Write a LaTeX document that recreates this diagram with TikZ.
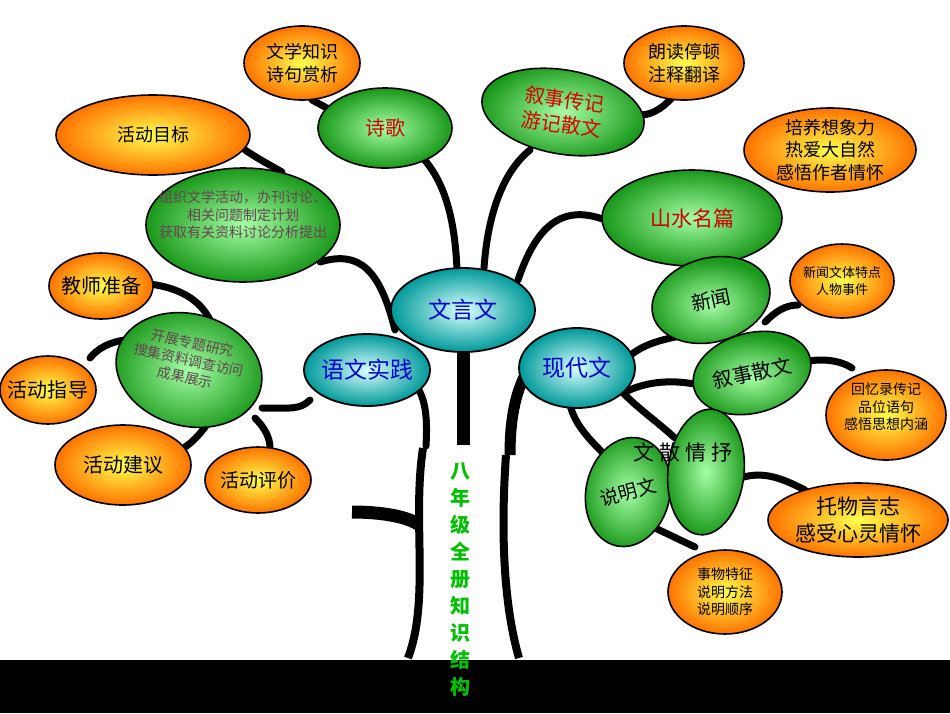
\documentclass[tikz,border=0pt]{standalone}
\usepackage{fontspec}
\setmainfont{Noto Sans CJK SC}
\begin{document}
\begin{tikzpicture}[x=1pt,y=-1pt,
  br/.style={line width=7pt,line cap=round},
  gbox/.style={draw=black,line width=1.6pt,inner color=green!35!white,outer color=green!55!black!90},
  obox/.style={draw=black,line width=1.6pt,inner color=yellow!70!white,outer color=orange!90!red},
  tbox/.style={draw=black,line width=1.8pt,inner color=cyan!15!white,outer color=teal!80!cyan},
  lbl/.style={align=center,inner sep=0pt,font=\fontsize{#1}{\dimexpr #1pt*5/4\relax}\selectfont}]
\path[fill=white] (0,0) rectangle (950,713);
\useasboundingbox (0,0) rectangle (950,713);
\fill[black] (0,660) rectangle (950,713);
% trunk
\draw[line width=8pt] (423,448) .. controls (412,520) and (430,600) .. (408,658);
\draw[line width=8pt] (506,455) .. controls (500,540) and (505,610) .. (519,658);
\draw[line width=13pt] (463,350) -- (463,445);
\draw[line width=13pt] (352,512) .. controls (380,512) and (405,516) .. (418,524);
\draw[br] (400,372) .. controls (425,385) and (428,410) .. (426,446);
\draw[line width=11pt] (525,375) .. controls (515,395) and (510,420) .. (510,455);
% branches
\draw[br] (457,270) .. controls (455,220) and (445,180) .. (420,155);
\draw[br] (484,268) .. controls (488,210) and (505,170) .. (530,150);
\draw[br] (518,280) .. controls (535,230) and (560,200) .. (610,222);
\draw[br] (395,330) .. controls (380,270) and (360,250) .. (320,262);
\draw[br] (310,400) .. controls (300,410) and (290,408) .. (262,408);
\draw[br] (255,418) .. controls (265,428) and (270,438) .. (270,448);
\draw[br] (210,420) .. controls (200,435) and (190,445) .. (180,450);
\draw[br] (125,340) .. controls (110,342) and (98,348) .. (90,358);
\draw[br] (150,284) .. controls (180,288) and (200,300) .. (210,320);
\draw[br] (245,150) .. controls (260,160) and (270,165) .. (282,172);
\draw[br] (312,100) .. controls (320,104) and (326,108) .. (335,112);
\draw[br] (640,115) .. controls (655,115) and (665,105) .. (675,95);
\draw[br] (625,360) .. controls (640,345) and (660,340) .. (680,336);
\draw[br] (625,392) .. controls (650,380) and (675,380) .. (700,385);
\draw[br] (622,392) .. controls (640,410) and (655,420) .. (675,438);
\draw[br] (570,405) .. controls (575,425) and (590,440) .. (605,455);
\draw[br] (765,322) .. controls (775,312) and (785,305) .. (798,305);
\draw[br] (805,362) .. controls (820,358) and (840,360) .. (852,368);
\draw[br] (740,478) .. controls (765,470) and (785,480) .. (805,490);
\draw[br] (655,528) .. controls (670,535) and (680,540) .. (695,547);
% green ellipses
\path[gbox] (385,128) ellipse [x radius=67,y radius=40];
\node[lbl=20,text=red!80!black] (sg) at (385,128) {诗歌};
\path[gbox,rotate around={-10:(563,112)}] (563,112) ellipse [x radius=82,y radius=42];
\node[lbl=20,text=red!85!black,rotate=-8] (xs) at (563,112) {叙事传记\\游记散文};
\path[gbox] (243,225) ellipse [x radius=97,y radius=57];
\node[lbl=14,text=black!70!magenta] (zz) at (243,215) {组织文学活动，办刊讨论、\\相关问题制定计划\\获取有关资料讨论分析提出};
\path[gbox] (692,218) ellipse [x radius=90,y radius=48];
\node[lbl=21,text=red!80!black] (ss) at (692,218) {山水名篇};
\path[gbox,rotate around={15:(711,300)}] (711,300) ellipse [x radius=60,y radius=42];
\node[lbl=20,rotate=12] (xw) at (711,300) {新闻};
\path[gbox,rotate around={-15:(189,370)}] (189,370) ellipse [x radius=74,y radius=56];
\node[lbl=14,text=black!70!magenta,rotate=-12] (kz) at (189,360) {开展专题研究\\搜集资料调查访问\\成果展示};
\path[gbox,rotate around={15:(752,373)}] (752,373) ellipse [x radius=60,y radius=40];
\node[lbl=20,rotate=12] (xss) at (752,373) {叙事散文};
\path[gbox,rotate around={-12:(628,492)}] (628,492) ellipse [x radius=42,y radius=55];
\node[lbl=19,rotate=15] (smw) at (628,492) {说明文};
\path[gbox,rotate around={-6:(706,472)}] (706,472) ellipse [x radius=38,y radius=63];
\node[lbl=21] (sq) at (683,452) {文 散 情 抒};
% teal
\path[tbox] (463,310) ellipse [x radius=72,y radius=42];
\node[lbl=23,text=blue!80!black] (wyw) at (463,310) {文言文};
\path[tbox] (367,370) ellipse [x radius=63,y radius=36];
\node[lbl=23,text=blue!80!black] (ywsj) at (367,370) {语文实践};
\path[tbox] (577,368) ellipse [x radius=58,y radius=40];
\node[lbl=23,text=blue!80!black] (xdw) at (577,368) {现代文};
% orange
\path[obox] (302,63) ellipse [x radius=58,y radius=37];
\node[lbl=18] (o1) at (302,63) {文学知识\\诗句赏析};
\path[obox] (684,63) ellipse [x radius=60,y radius=37];
\node[lbl=18] (o2) at (684,63) {朗读停顿\\注释翻译};
\path[obox] (153,135) ellipse [x radius=97,y radius=40];
\node[lbl=18] (o3) at (153,135) {活动目标};
\path[obox] (830,150) ellipse [x radius=86,y radius=42];
\node[lbl=18] (o4) at (830,150) {培养想象力\\热爱大自然\\感悟作者情怀};
\path[obox] (101,286) ellipse [x radius=52,y radius=33];
\node[lbl=20] (o5) at (101,286) {教师准备};
\path[obox] (842,281) ellipse [x radius=52,y radius=37];
\node[lbl=13] (o6) at (842,281) {新闻文体特点\\人物事件};
\path[obox] (48,390) ellipse [x radius=48,y radius=34];
\node[lbl=20] (o7) at (48,390) {活动指导};
\path[obox] (886,415) ellipse [x radius=60,y radius=45];
\node[lbl=14] (o8) at (886,407) {回忆录传记\\品位语句\\感悟思想内涵};
\path[obox] (123,465) ellipse [x radius=68,y radius=40];
\node[lbl=20] (o9) at (123,465) {活动建议};
\path[obox] (258,480) ellipse [x radius=53,y radius=33];
\node[lbl=19] (o10) at (258,480) {活动评价};
\path[obox] (858,520) ellipse [x radius=90,y radius=37];
\node[lbl=21] (o11) at (858,520) {托物言志\\感受心灵情怀};
\path[obox] (725,592) ellipse [x radius=57,y radius=42];
\node[lbl=14] (o12) at (725,592) {事物特征\\说明方法\\说明顺序};
% title
\node[align=center,inner sep=0pt,text=green!75!black,font=\bfseries\fontsize{20}{27}\selectfont] (tt) at (460,580) {八\\年\\级\\全\\册\\知\\识\\结\\构};
\end{tikzpicture}
\end{document}
